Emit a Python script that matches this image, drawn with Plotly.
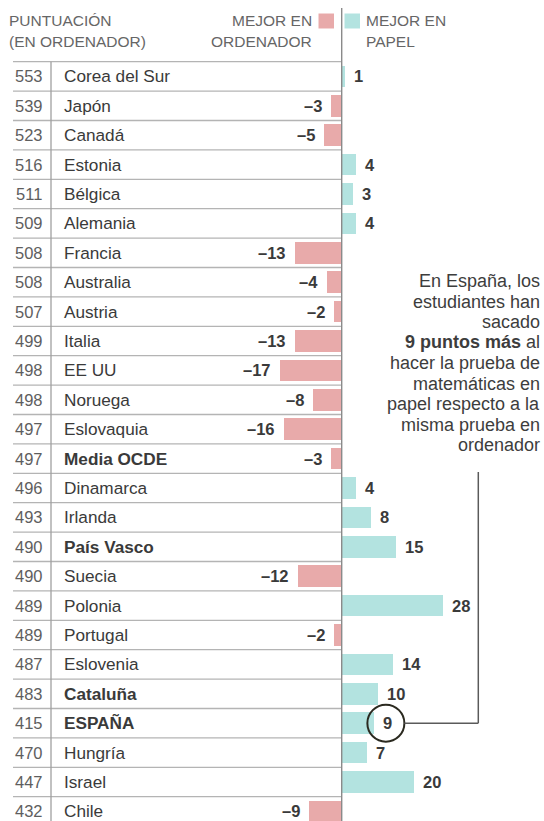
import plotly.graph_objects as go

# ---------------- data ----------------
countries = ["Corea del Sur", "Japón", "Canadá", "Estonia", "Bélgica", "Alemania",
             "Francia", "Australia", "Austria", "Italia", "EE UU", "Noruega",
             "Eslovaquia", "Media OCDE", "Dinamarca", "Irlanda", "País Vasco",
             "Suecia", "Polonia", "Portugal", "Eslovenia", "Cataluña", "ESPAÑA",
             "Hungría", "Israel", "Chile"]
scores = [553, 539, 523, 516, 511, 509, 508, 508, 507, 499, 498, 498, 497, 497,
          496, 493, 490, 490, 489, 489, 487, 483, 415, 470, 447, 432]
diffs = [1, -3, -5, 4, 3, 4, -13, -4, -2, -13, -17, -8, -16, -3, 4, 8, 15, -12,
         28, -2, 14, 10, 9, 7, 20, -9]
bold_rows = ["Media OCDE", "País Vasco", "Cataluña", "ESPAÑA"]
highlight = "ESPAÑA"
header_left = ["PUNTUACIÓN", "(EN ORDENADOR)"]
legend_neg = ["MEJOR EN", "ORDENADOR"]
legend_pos = ["MEJOR EN", "PAPEL"]
note_lines = ["En España, los", "estudiantes han", "sacado",
              "<b>9 puntos más</b> al", "hacer la prueba de", "matemáticas en",
              "papel respecto a la", "misma prueba en", "ordenador"]

# ---------------- layout constants ----------------
W, H = 544, 821
PINK = "#e8aaaa"
TEAL = "#b3e3e0"
FONT = "Liberation Sans, Arial, sans-serif"
TXT = "#3a3a3a"
GREY = "#666666"

ZERO_PX = 341.7
SCALE = 3.63            # px per point
ROW0 = 76.4             # px centre of first row
PITCH = 29.4            # px per row

xmin = -ZERO_PX / SCALE
xmax = (W - ZERO_PX) / SCALE
ytop = -ROW0 / PITCH
ybot = (H - ROW0) / PITCH


def px(x):
    return x / W


def py(y):
    return 1 - y / H


rows = list(range(len(countries)))

fig = go.Figure()
fig.add_trace(go.Bar(
    x=diffs, y=rows, orientation="h", width=0.73,
    marker=dict(color=[PINK if d < 0 else TEAL for d in diffs], line=dict(width=0)),
    hoverinfo="skip", showlegend=False,
))

ann = []
shapes = []

# row separators and table lines
for i in rows:
    shapes.append(dict(type="line", xref="paper", yref="y", x0=px(13), x1=px(341),
                       y0=i - 0.5, y1=i - 0.5, line=dict(color="#b4b4b4", width=1.3),
                       layer="below"))
shapes.append(dict(type="line", xref="paper", yref="y", x0=px(51), x1=px(51),
                   y0=-0.5, y1=ybot, line=dict(color="#a0a0a0", width=1.3)))
shapes.append(dict(type="line", xref="x", yref="paper", x0=0, x1=0,
                   y0=0, y1=py(8), line=dict(color="#8a8a8a", width=1.4)))

# table text
for i, (c, s, d) in enumerate(zip(countries, scores, diffs)):
    name = f"<b>{c}</b>" if c in bold_rows else c
    ann.append(dict(xref="paper", yref="y", x=px(29), y=i, text=str(s),
                    xanchor="center", yanchor="middle", showarrow=False,
                    font=dict(family=FONT, size=16.5, color="#5e5e5e")))
    ann.append(dict(xref="paper", yref="y", x=px(62), y=i, text=name,
                    xanchor="left", yanchor="middle", showarrow=False,
                    font=dict(family=FONT, size=17.2, color=TXT)))
    lab = f"<b>{d}</b>" if d >= 0 else f"<b>–{abs(d)}</b>"
    ann.append(dict(xref="x", yref="y", x=d, y=i, text=lab,
                    xanchor="left" if d >= 0 else "right", yanchor="middle",
                    xshift=7 if d >= 0 else -7, showarrow=False,
                    font=dict(family=FONT, size=16.5, color=TXT)))

# headers
for k, t in enumerate(header_left):
    ann.append(dict(xref="paper", yref="paper", x=px(7), y=py(21 + 20.5 * k), text=t,
                    xanchor="left", yanchor="middle", showarrow=False,
                    font=dict(family=FONT, size=15.5, color=GREY)))
for k, t in enumerate(legend_neg):
    ann.append(dict(xref="paper", yref="paper", x=px(313.5), y=py(21 + 20.5 * k), text=t,
                    xanchor="right", yanchor="middle", showarrow=False,
                    font=dict(family=FONT, size=15.5, color=GREY)))
for k, t in enumerate(legend_pos):
    ann.append(dict(xref="paper", yref="paper", x=px(364), y=py(21 + 20.5 * k), text=t,
                    xanchor="left", yanchor="middle", showarrow=False,
                    font=dict(family=FONT, size=15.5, color=GREY)))
shapes.append(dict(type="rect", xref="paper", yref="paper", x0=px(318.5), x1=px(334),
                   y0=py(13.5), y1=py(28.5), fillcolor=PINK, line=dict(width=0)))
shapes.append(dict(type="rect", xref="paper", yref="paper", x0=px(344.5), x1=px(360),
                   y0=py(13.5), y1=py(28.5), fillcolor=TEAL, line=dict(width=0)))

# note text
for k, t in enumerate(note_lines):
    ann.append(dict(xref="paper", yref="paper", x=px(542), y=py(281 + 20.5 * k), text=t,
                    xanchor="right", yanchor="middle", showarrow=False,
                    font=dict(family=FONT, size=18, color="#3d3d3d")))

# highlight circle and connector
hi = countries.index(highlight)
hv = diffs[hi]
shapes.append(dict(type="circle", xref="x", yref="y", xsizemode="pixel",
                   ysizemode="pixel", xanchor=hv, yanchor=hi,
                   x0=11.5 - 18.5, x1=11.5 + 18.5, y0=-18.5, y1=18.5,
                   line=dict(color="#2b2a20", width=2)))
hx_right = ZERO_PX + hv * SCALE + 11.5 + 18.5
hy = ROW0 + hi * PITCH
shapes.append(dict(type="line", xref="paper", yref="y", x0=px(hx_right), x1=px(478.3),
                   y0=hi, y1=hi, line=dict(color="#5a5a5a", width=1.5)))
shapes.append(dict(type="line", xref="paper", yref="paper", x0=px(478.3), x1=px(478.3),
                   y0=py(hy), y1=py(472), line=dict(color="#5a5a5a", width=1.5)))

fig.update_layout(
    width=W, height=H, autosize=False,
    margin=dict(l=0, r=0, t=0, b=0, pad=0),
    paper_bgcolor="white", plot_bgcolor="white",
    bargap=0, showlegend=False,
    xaxis=dict(range=[xmin, xmax], visible=False, fixedrange=True),
    yaxis=dict(range=[ybot, ytop], visible=False, fixedrange=True),
    annotations=ann, shapes=shapes,
)

fig.write_html("out.html", config={"displayModeBar": False},
               post_script="document.body.style.margin='0';document.body.style.overflow='hidden';")
